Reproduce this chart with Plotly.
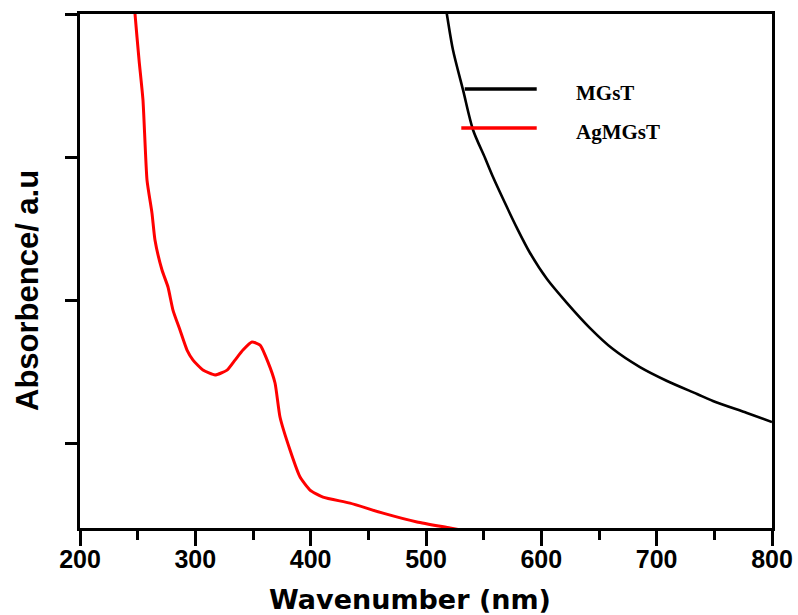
import plotly.graph_objects as go

# Wavelength (nm) and absorbance (a.u.) for the two samples
mgst_nm = [512, 518.2, 523.4, 532.1, 540.8, 551.2, 558.1, 568.5, 578.9, 590.2,
           604.9, 622.3, 642.2, 662.1, 685.5, 709.0, 735.0, 748.8, 778.3, 800.0]
mgst_abs = [3.30, 2.993, 2.748, 2.469, 2.189, 1.993, 1.860, 1.678, 1.503, 1.329,
            1.147, 0.979, 0.804, 0.657, 0.531, 0.434, 0.343, 0.294, 0.210, 0.147]

agmgst_nm = [245.0, 247.7, 251.2, 254.6, 258.1, 262.4, 265.0, 271.1, 276.3, 280.6,
             286.7, 292.8, 298.0, 306.6, 317.1, 327.5, 334.4, 341.3, 349.1, 356.1,
             363.0, 369.1, 373.4, 382.1, 390.8, 399.4, 410.7, 434.1, 462.7, 492.2,
             520.8, 545.0]
agmgst_abs = [3.30, 3.00, 2.678, 2.399, 1.839, 1.608, 1.420, 1.210, 1.091, 0.930,
              0.790, 0.650, 0.580, 0.510, 0.476, 0.510, 0.580, 0.650, 0.706, 0.685,
              0.566, 0.420, 0.182, -0.049, -0.238, -0.329, -0.378, -0.420, -0.490, -0.552,
              -0.594, -0.630]

series_names = ["MGsT", "AgMGsT"]
series_colors = ["#000000", "#ff0000"]

x_ticks = [200, 300, 400, 500, 600, 700, 800]
y_ticks = [0, 1, 2, 3]

fig = go.Figure()
fig.add_trace(go.Scatter(x=mgst_nm, y=mgst_abs, mode="lines", name=series_names[0],
                         line=dict(color=series_colors[0], width=2.6,
                                   shape="spline", smoothing=0.8)))
fig.add_trace(go.Scatter(x=agmgst_nm, y=agmgst_abs, mode="lines", name=series_names[1],
                         line=dict(color=series_colors[1], width=3,
                                   shape="spline", smoothing=0.5)))

# Legend keys and labels drawn in the upper right of the plot area
# (key start, key end, key height, label height) in paper units
legend_rows = [(0.556, 0.660, 0.854, 0.846), (0.551, 0.660, 0.778, 0.770)]
for (x0, x1, ky, ty), name, color in zip(legend_rows, series_names, series_colors):
    fig.add_shape(type="line", xref="paper", yref="paper",
                  x0=x0, x1=x1, y0=ky, y1=ky,
                  line=dict(color=color, width=3.5), layer="above")
    fig.add_annotation(xref="paper", yref="paper", x=0.714, y=ty,
                       text=f"<b>{name}</b>", showarrow=False,
                       xanchor="left", yanchor="middle",
                       font=dict(family="Liberation Serif, Times New Roman, serif",
                                 size=21, color="black"))

axis_font = "Liberation Sans, Arial, sans-serif"

fig.update_layout(
    width=798, height=615,
    margin=dict(l=80, r=26, t=14, b=87),
    paper_bgcolor="white", plot_bgcolor="white",
    showlegend=False,
    xaxis=dict(
        range=[200, 800], tickvals=x_ticks, ticktext=[str(v) for v in x_ticks],
        ticks="outside", ticklen=15, tickwidth=3, tickcolor="black",
        minor=dict(dtick=50, tick0=250, ticks="outside", ticklen=9, tickwidth=3, tickcolor="black"),
        showline=True, linewidth=3, linecolor="black", mirror=True,
        showgrid=False, zeroline=False, automargin=False,
        ticklabelstandoff=-8,
        tickfont=dict(family=axis_font, size=25, color="black", weight="bold"),
    ),
    yaxis=dict(
        range=[-0.594, 3.0], tickvals=y_ticks, showticklabels=False,
        ticks="outside", ticklen=12, tickwidth=3, tickcolor="black",
        showline=True, linewidth=3, linecolor="black", mirror=True,
        showgrid=False, zeroline=False, automargin=False,
    ),
)

fig.add_annotation(xref="paper", yref="paper", x=0.4776, y=-0.140,
                   text="<b>Wavenumber (nm)</b>", showarrow=False,
                   xanchor="center", yanchor="middle",
                   font=dict(family="DejaVu Sans, sans-serif", size=27, color="black"))
fig.add_annotation(xref="paper", yref="paper", x=-0.0766, y=0.463,
                   text="<b>Absorbence/ a.u</b>", showarrow=False, textangle=-90,
                   xanchor="center", yanchor="middle",
                   font=dict(family=axis_font, size=31, color="black"))

fig.write_html("out.html")
